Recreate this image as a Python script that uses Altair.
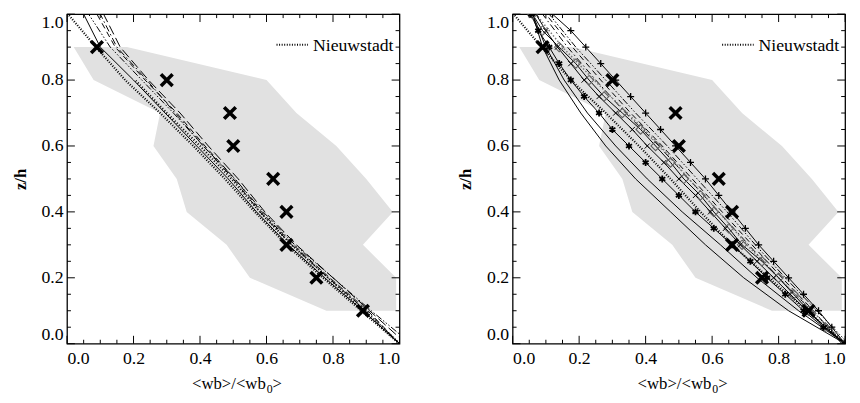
import altair as alt
import pandas as pd

# ---------------- data ----------------
Z11 = [1.0, 0.9, 0.8, 0.7, 0.6, 0.5, 0.4, 0.3, 0.2, 0.1, 0.0]
Z21 = [1.0, 0.95, 0.9, 0.85, 0.8, 0.75, 0.7, 0.65, 0.6, 0.55, 0.5,
       0.45, 0.4, 0.35, 0.3, 0.25, 0.2, 0.15, 0.1, 0.05, 0.0]

# grey envelope (left / right boundary at each z)
band_z = [0.9, 0.8, 0.7, 0.6, 0.5, 0.4, 0.3, 0.2, 0.1]
band_left = [0.02, 0.08, 0.28, 0.26, 0.33, 0.36, 0.48, 0.55, 0.78]
band_right = [0.18, 0.60, 0.69, 0.81, 0.90, 0.98, 0.89, 0.99, 0.99]

# observations (big crosses)
obs_v = [0.09, 0.30, 0.49, 0.50, 0.62, 0.66, 0.66, 0.75, 0.89]
obs_z = [0.9, 0.8, 0.7, 0.6, 0.5, 0.4, 0.3, 0.2, 0.1]

# Nieuwstadt (both panels)
nieuw = [0.003, 0.087, 0.175, 0.28, 0.38, 0.475, 0.565, 0.66, 0.77, 0.885, 1.0]

# left panel curves (values at Z11)
left_solid = [0.05, 0.10, 0.20, 0.295, 0.39, 0.485, 0.57, 0.665, 0.775, 0.89, 1.0]
left_dash = [0.09, 0.145, 0.235, 0.33, 0.415, 0.505, 0.585, 0.68, 0.79, 0.905, 1.0]
left_dashdot = [0.10, 0.15, 0.24, 0.325, 0.41, 0.50, 0.58, 0.675, 0.785, 0.90, 1.0]
left_dash3dot = [0.065, 0.13, 0.225, 0.32, 0.41, 0.505, 0.59, 0.685, 0.80, 0.915, 1.035]
left_longdash = [0.11, 0.16, 0.245, 0.34, 0.425, 0.515, 0.595, 0.69, 0.80, 0.91, 1.02]
left_comb = [None, None, 0.205, 0.30, 0.40, 0.495, 0.58, 0.675, 0.785, 0.895, 1.0]

# right panel plain curves (values at Z11)
right_low1 = [0.06, 0.09, 0.14, 0.205, 0.28, 0.37, 0.475, 0.58, 0.695, 0.83, 1.0]
right_low2 = [0.06, 0.10, 0.155, 0.225, 0.31, 0.405, 0.51, 0.625, 0.735, 0.86, 1.0]
right_dash = [0.10, 0.18, 0.265, 0.355, 0.45, 0.54, 0.63, 0.72, 0.81, 0.905, 0.99]
right_dashdot = [0.09, 0.165, 0.25, 0.34, 0.44, 0.53, 0.62, 0.71, 0.80, 0.90, 1.0]
right_dash3dot = [0.11, 0.19, 0.28, 0.37, 0.465, 0.555, 0.645, 0.73, 0.82, 0.915, 1.01]
right_grey = [0.07, 0.15, 0.245, 0.345, 0.445, 0.53, 0.62, 0.705, 0.80, 0.90, 1.0]

# right panel curves with symbols (values at Z21)
right_ast = [0.055, 0.077, 0.11, 0.14, 0.175, 0.215, 0.26, 0.30, 0.35, 0.40, 0.45,
             0.50, 0.55, 0.605, 0.66, 0.715, 0.765, 0.82, 0.875, 0.935, 1.0]
right_plus = [0.12, 0.175, 0.22, 0.265, 0.31, 0.355, 0.40, 0.445, 0.49, 0.535, 0.58,
              0.62, 0.66, 0.70, 0.74, 0.785, 0.83, 0.875, 0.92, 0.96, 1.0]
right_dia = [0.06, 0.09, 0.14, 0.19, 0.23, 0.275, 0.33, 0.385, 0.43, 0.475, 0.515,
             0.565, 0.605, 0.65, 0.69, 0.75, 0.80, 0.845, 0.89, 0.94, 1.0]
right_x = [0.07, 0.10, 0.135, 0.175, 0.215, 0.26, 0.31, 0.36, 0.405, 0.455, 0.50,
           0.55, 0.595, 0.64, 0.685, 0.735, 0.785, 0.835, 0.885, 0.94, 1.0]

major_ticks = [0.0, 0.2, 0.4, 0.6, 0.8, 1.0]
minor_ticks = [0.05, 0.1, 0.15, 0.25, 0.3, 0.35, 0.45, 0.5, 0.55,
               0.65, 0.7, 0.75, 0.85, 0.9, 0.95]

x_title_main = "<wb>/<wb"
x_title_sub = "0"
x_title_end = ">"
legend_label = "Nieuwstadt"

W, H = 338, 335
FONT = "Liberation Serif"

X_ENC = alt.X("v:Q", scale=alt.Scale(domain=[0, 1], nice=False, zero=False),
              axis=alt.Axis(values=major_ticks, format=".1f", title=None,
                            ticks=False, domain=False, grid=False, labelPadding=6,
                            labelFont=FONT, labelFontSize=18, labelColor="black"))
Y_ENC = alt.Y("z:Q", scale=alt.Scale(domain=[0, 1], nice=False, zero=False),
              axis=alt.Axis(values=major_ticks, format=".1f", title="z/h",
                            ticks=False, domain=False, grid=False, labelPadding=4,
                            labelFlush=True, titleFontWeight="bold", titlePadding=12,
                            labelFont=FONT, titleFont=FONT, labelFontSize=18,
                            titleFontSize=17, labelColor="black", titleColor="black"))


def curve(vals, zs):
    return pd.DataFrame({"v": vals, "z": zs}).dropna()


def line_layer(vals, zs, dash=None, color="black", width=1.0):
    kw = dict(clip=True, color=color, strokeWidth=width)
    if dash is not None:
        kw["strokeDash"] = dash
    return alt.Chart(curve(vals, zs)).mark_line(**kw).encode(
        x=X_ENC, y=Y_ENC, order="z:Q")


def sym_layer(vals, zs, shape, size, sw, color="black"):
    return alt.Chart(curve(vals, zs)).mark_point(
        shape=shape, size=size, filled=False, stroke=color, strokeWidth=sw,
        opacity=1, clip=True).encode(x=X_ENC, y=Y_ENC)


def label(text, x, y, size, align="left"):
    return alt.Chart(pd.DataFrame({"k": [0]})).mark_text(
        align=align, baseline="alphabetic", font=FONT, fontSize=size, color="black").encode(
        x=alt.value(x), y=alt.value(y), text=alt.value(text))


def common_back():
    band = alt.Chart(pd.DataFrame({"z": band_z, "v": band_left, "v2": band_right})).mark_area(
        orient="horizontal", color="#e1e1e1").encode(y=Y_ENC, x=X_ENC, x2="v2:Q")
    return [band]


def frame_ticks():
    layers = []
    for vals, ln in ((major_ticks, 8), (minor_ticks, 4)):
        dx = pd.DataFrame({"v": vals})
        dz = pd.DataFrame({"z": vals})
        layers.append(alt.Chart(dx).mark_rule(color="black", strokeWidth=1).encode(
            x=X_ENC, y=alt.value(H), y2=alt.value(H - ln)))
        layers.append(alt.Chart(dx).mark_rule(color="black", strokeWidth=1).encode(
            x=X_ENC, y=alt.value(0), y2=alt.value(ln)))
        layers.append(alt.Chart(dz).mark_rule(color="black", strokeWidth=1).encode(
            y=Y_ENC, x=alt.value(0), x2=alt.value(ln)))
        layers.append(alt.Chart(dz).mark_rule(color="black", strokeWidth=1).encode(
            y=Y_ENC, x=alt.value(W), x2=alt.value(W - ln)))
    return layers


XSHAPE = "M-1,-1L1,1M-1,1L1,-1"
ASTER = "M0,-1L0,1M-0.87,-0.5L0.87,0.5M-0.87,0.5L0.87,-0.5"
PLUS = "M-1,0L1,0M0,-1L0,1"

NIEU_DASH = [1, 1.6]


def front():
    obs = alt.Chart(pd.DataFrame({"v": obs_v, "z": obs_z})).mark_point(
        shape=XSHAPE, size=140, filled=False, stroke="black", strokeWidth=3.6,
        opacity=1).encode(x=X_ENC, y=Y_ENC)
    key = alt.Chart(pd.DataFrame({"k": [0]})).mark_rule(
        color="black", strokeWidth=2, strokeDash=NIEU_DASH).encode(
        x=alt.value(213), x2=alt.value(245), y=alt.value(31))
    return [obs, key,
            label(legend_label, 250, 37, 18),
            label(x_title_main, 127, H + 46, 17),
            label(x_title_sub, 203, H + 50, 12),
            label(x_title_end, 209, H + 46, 17)]


left_layers = common_back() + [
    line_layer(left_longdash, Z11, dash=[10, 4]),
    line_layer(left_dash, Z11, dash=[6, 4]),
    line_layer(left_dashdot, Z11, dash=[7, 3, 1.5, 3]),
    line_layer(left_dash3dot, Z11, dash=[7, 2, 1.5, 2, 1.5, 2, 1.5, 2]),
    line_layer(left_comb, Z11, dash=[1, 2], width=2.2),
    line_layer(left_solid, Z11),
    line_layer(nieuw, Z11, dash=NIEU_DASH, width=2.2),
] + front() + frame_ticks()

right_layers = common_back() + [
    line_layer(right_low1, Z11),
    line_layer(right_low2, Z11),
    line_layer(right_dash, Z11, dash=[6, 4]),
    line_layer(right_dashdot, Z11, dash=[7, 3, 1.5, 3]),
    line_layer(right_dash3dot, Z11, dash=[7, 2, 1.5, 2, 1.5, 2, 1.5, 2]),
    line_layer(right_grey, Z11, dash=[1.5, 2], color="#777777", width=1.5),
    line_layer(nieuw, Z11, dash=NIEU_DASH, width=2.2),
    line_layer(right_ast, Z21),
    line_layer(right_plus, Z21),
    line_layer(right_dia, Z21),
    line_layer(right_x, Z21),
    sym_layer(right_dia, Z21, "diamond", 90, 1.1, color="#606060"),
    sym_layer(right_ast, Z21, ASTER, 50, 1.8),
    sym_layer(right_plus, Z21, PLUS, 50, 1.3),
    sym_layer(right_x, Z21, XSHAPE, 28, 1.0),
] + front() + frame_ticks()

left = alt.layer(*left_layers).properties(width=W, height=H)
right = alt.layer(*right_layers).properties(width=W, height=H)

chart = alt.hconcat(left, right, spacing=55).properties(
    padding={"left": 2, "top": 1, "right": 5, "bottom": 2}
).configure_view(stroke="black", strokeWidth=1.3)

chart.save("out.html", embed_options={"renderer": "svg", "actions": False})
